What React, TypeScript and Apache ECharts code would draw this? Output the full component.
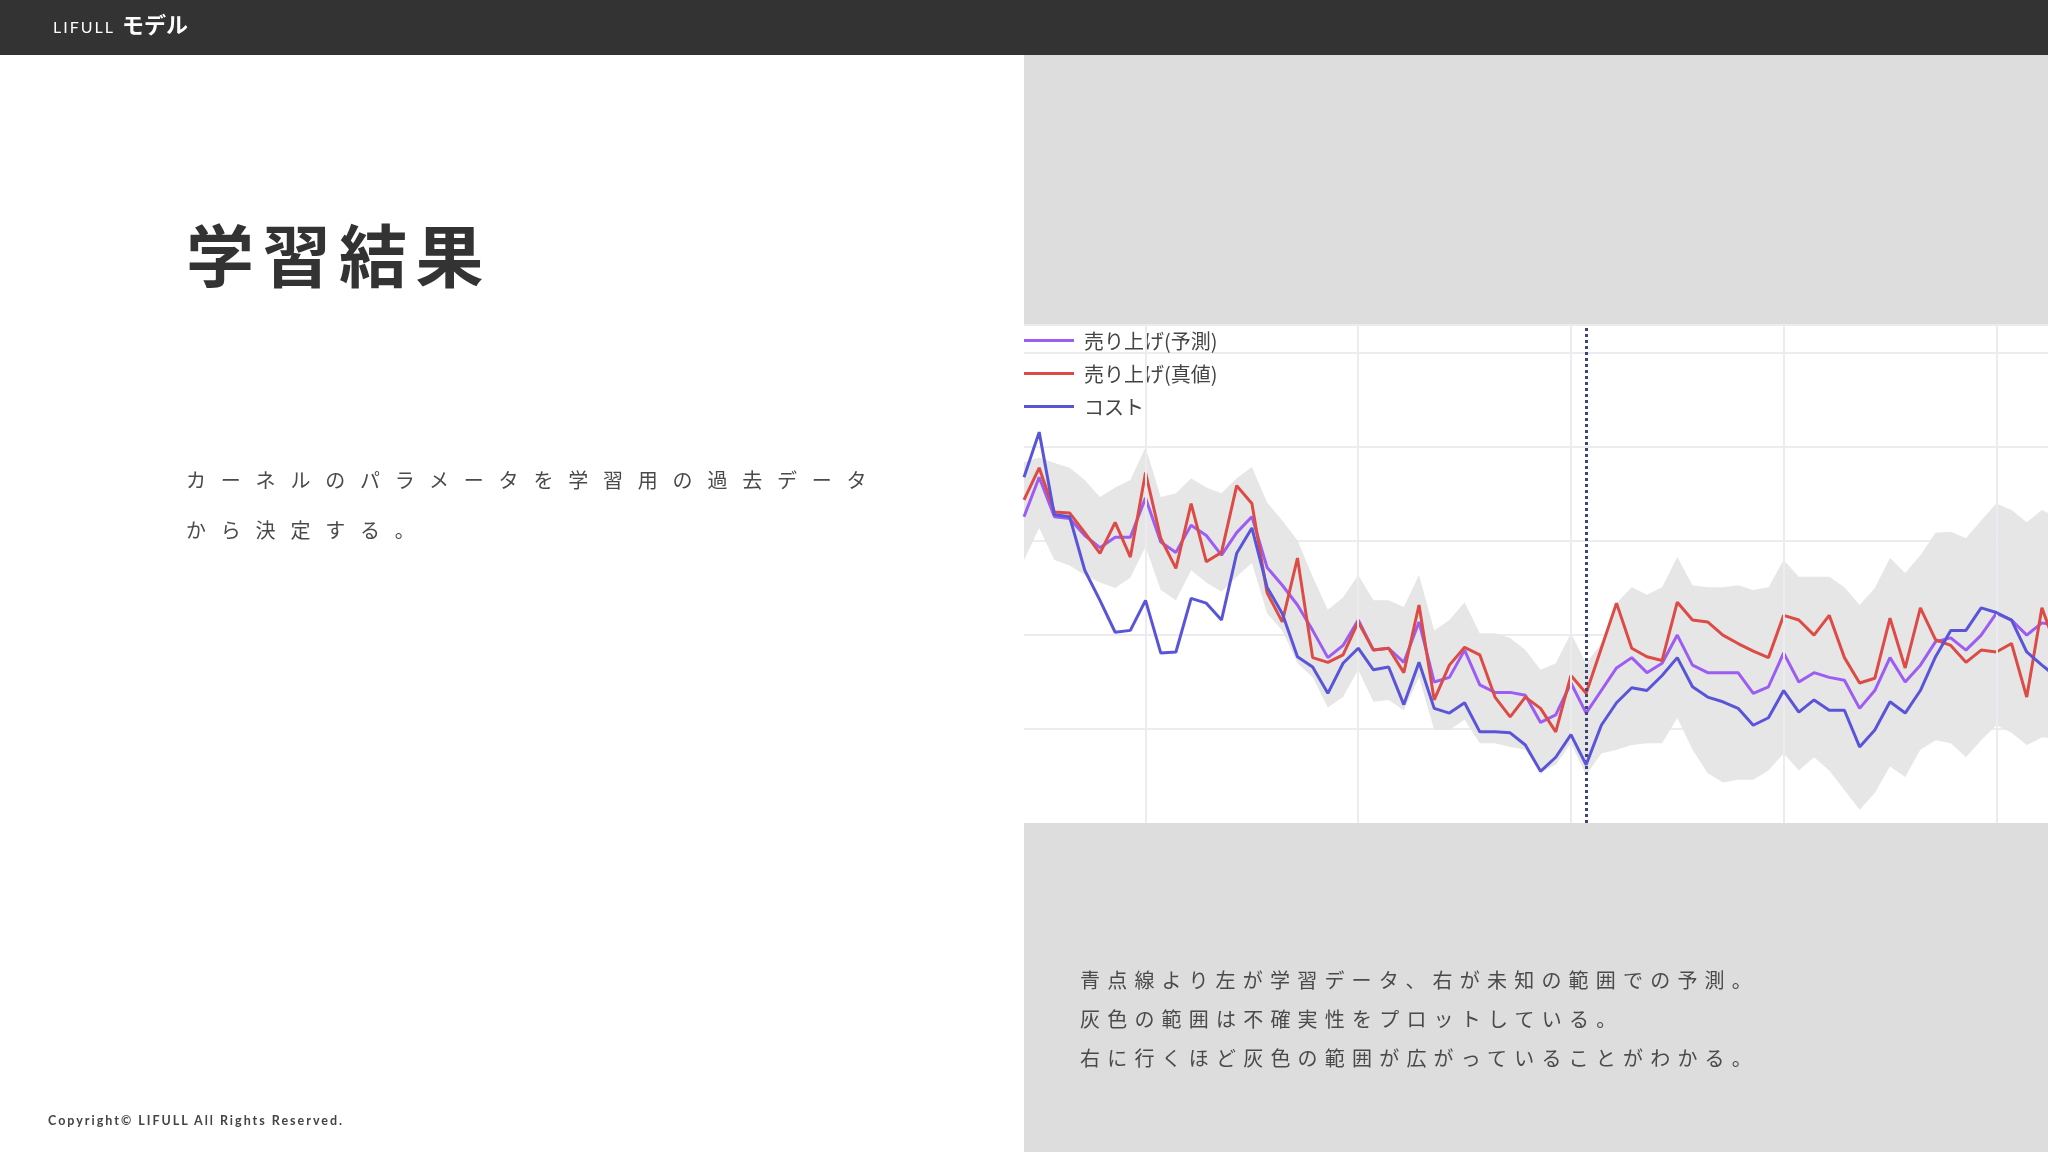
import React, { useEffect, useRef } from "react";
import * as echarts from "echarts";

// ---------- data ----------
const seriesNames = ["売り上げ(予測)", "売り上げ(真値)", "コスト"];

const predicted = [
  32.6, 36.8, 32.6, 32.4, 30.6, 29.3, 30.4, 30.4, 34.6, 29.9,
  28.8, 31.7, 30.6, 28.5, 30.9, 32.6, 27.2, 25.3, 23.2, 20.5,
  17.6, 18.9, 21.6, 18.4, 18.6, 17.1, 21.4, 15.0, 15.5, 18.4,
  14.7, 13.9, 13.9, 13.6, 10.7, 11.5, 14.9, 11.7, 14.1, 16.5,
  17.6, 16.0, 17.0, 20.0, 16.8, 16.0, 16.0, 16.0, 13.8, 14.5,
  18.1, 15.0, 16.0, 15.5, 15.2, 12.2, 14.1, 17.6, 15.0, 16.8,
  19.3, 19.7, 18.4, 20.0, 22.3, 21.6, 20.0, 21.3, 21.0,
];

const actual = [
  34.4, 37.8, 33.1, 33.0, 30.9, 28.7, 32.0, 28.3, 37.3, 30.3,
  27.1, 34.0, 27.8, 28.8, 35.9, 34.0, 24.5, 21.4, 28.2, 17.6,
  17.1, 17.9, 21.4, 18.4, 18.6, 16.0, 23.2, 13.1, 16.8, 18.7,
  17.9, 13.4, 11.3, 13.4, 12.2, 9.7, 15.7, 13.8, 18.6, 23.4,
  18.6, 17.7, 17.3, 23.5, 21.6, 21.4, 20.0, 19.1, 18.3, 17.6,
  22.1, 21.6, 20.0, 22.1, 17.6, 14.9, 15.4, 21.8, 16.5, 22.9,
  19.5, 18.9, 17.1, 18.4, 18.2, 19.1, 13.4, 22.9, 18.4,
];

const cost = [
  36.8, 41.6, 32.8, 32.6, 26.9, 23.7, 20.3, 20.5, 23.7, 18.1,
  18.2, 23.9, 23.4, 21.6, 28.7, 31.4, 25.1, 22.3, 17.7, 16.6,
  13.8, 17.0, 18.6, 16.3, 16.6, 12.6, 17.1, 12.2, 11.7, 12.8,
  9.7, 9.7, 9.6, 8.3, 5.5, 7.0, 9.4, 6.2, 10.4, 12.8,
  14.4, 14.1, 15.7, 17.6, 14.5, 13.4, 12.9, 12.2, 10.4, 11.2,
  14.1, 11.8, 13.1, 12.0, 12.0, 8.1, 9.9, 12.9, 11.7, 14.1,
  17.7, 20.5, 20.5, 22.9, 22.4, 21.6, 18.2, 16.8, 15.5,
];

const upperBand = [
  38.4, 38.9, 38.3, 37.8, 36.5, 34.7, 35.7, 36.5, 40.0, 34.7,
  35.1, 36.7, 35.7, 35.1, 36.7, 37.9, 34.1, 32.2, 30.1, 26.2,
  22.7, 24.0, 26.4, 23.7, 23.7, 23.0, 26.4, 20.5, 21.6, 23.5,
  20.2, 20.2, 19.7, 18.4, 16.3, 17.0, 20.2, 17.0, 19.1, 23.4,
  25.1, 24.3, 25.1, 28.3, 25.3, 25.1, 25.1, 25.3, 24.8, 25.1,
  28.0, 26.2, 26.2, 26.2, 25.1, 23.2, 25.0, 28.2, 26.6, 28.5,
  30.9, 31.0, 30.3, 32.2, 34.0, 33.3, 32.0, 33.3, 32.5,
];

const lowerBand = [
  28.0, 31.4, 28.0, 27.4, 26.4, 25.6, 25.0, 26.1, 29.4, 24.8,
  23.7, 26.9, 25.6, 24.6, 26.2, 27.7, 22.3, 20.5, 17.0, 15.5,
  12.3, 13.4, 16.3, 12.9, 13.1, 12.0, 15.5, 9.9, 9.9, 11.0,
  8.5, 8.5, 8.1, 7.8, 5.4, 6.2, 8.5, 5.1, 7.4, 7.8,
  8.3, 8.5, 8.5, 11.2, 7.8, 5.3, 4.3, 4.6, 4.6, 5.6,
  7.4, 5.6, 7.0, 5.6, 3.5, 1.4, 3.2, 6.0, 4.9, 7.8,
  8.8, 8.5, 7.0, 8.8, 10.4, 9.6, 8.3, 9.1, 9.0,
];

const xGridTicks = [8, 22, 36, 50, 64];
const splitIndex = 37;

// ---------- texts ----------
const headerBrand = "LIFULL";
const headerTitle = "モデル";
const pageTitle = "学習結果";
const leftLines = ["カーネルのパラメータを学習用の過去データ", "から決定する。"];
const noteLines = [
  "青点線より左が学習データ、右が未知の範囲での予測。",
  "灰色の範囲は不確実性をプロットしている。",
  "右に行くほど灰色の範囲が広がっていることがわかる。",
];
const copyright = "Copyright© LIFULL All Rights Reserved.";

const CJK = '"Noto Sans CJK JP", "Noto Sans", sans-serif';
const LATIN = 'Lato, "Open Sans", sans-serif';

const COLORS = ["#9d5cf2", "#dc4b46", "#5a55d8"];

// letter spacing applied to rendered svg texts
const spacingMap: Record<string, number> = {
  [pageTitle]: 8.5,
  [leftLines[0]]: 14.8,
  [leftLines[1]]: 14.8,
  [noteLines[0]]: 7.2,
  [noteLines[1]]: 7.2,
  [noteLines[2]]: 7.2,
  [headerBrand]: 2,
  [copyright]: 2.0,
};

function txt(text: string, x: number, y: number, size: number, fill: string, family: string, weight: any = "normal") {
  return {
    type: "text",
    x,
    y,
    silent: true,
    style: {
      text,
      fill,
      fontSize: size,
      fontFamily: family,
      fontWeight: weight,
      textAlign: "left",
      textVerticalAlign: "middle",
    },
  };
}

export default function App() {
  const ref = useRef<HTMLDivElement>(null);

  useEffect(() => {
    if (!ref.current) return;
    const chart = echarts.init(ref.current, undefined, { renderer: "svg" });

    const idx = predicted.map((_, i) => i);

    const graphic: any[] = [
      { type: "rect", z: -3, silent: true, shape: { x: 0, y: 0, width: 2048, height: 1152 }, style: { fill: "#ffffff" } },
      { type: "rect", z: -2, silent: true, shape: { x: 1024, y: 55, width: 1024, height: 1097 }, style: { fill: "#dddddd" } },
      { type: "rect", z: -1, silent: true, shape: { x: 1024, y: 325, width: 1024, height: 498 }, style: { fill: "#ffffff" } },
      { type: "rect", z: -1, silent: true, shape: { x: 0, y: 0, width: 2048, height: 55 }, style: { fill: "#333333" } },
      txt(headerBrand, 53, 26, 16, "#ffffff", LATIN, "normal"),
      txt(headerTitle, 122, 23, 22, "#ffffff", CJK, "bold"),
      txt(pageTitle, 186, 252, 68, "#333333", CJK, "bold"),
      txt(leftLines[0], 186, 479, 20, "#4a4a4a", CJK),
      txt(leftLines[1], 186, 529, 20, "#4a4a4a", CJK),
      txt(noteLines[0], 1080, 979, 20, "#4a4a4a", CJK),
      txt(noteLines[1], 1080, 1018, 20, "#4a4a4a", CJK),
      txt(noteLines[2], 1080, 1057, 20, "#4a4a4a", CJK),
      txt(copyright, 48, 1120, 12.5, "#444444", LATIN, "bold"),
    ];

    const lineSeries = (name: string, data: number[], color: string, z: number) => ({
      name,
      type: "line",
      data: data.map((v, i) => [idx[i], v]),
      symbol: "none",
      z,
      color,
      lineStyle: { color, width: 3 },
      itemStyle: { color },
      emphasis: { disabled: true },
    });

    const bandData = idx.map((i) => [i, lowerBand[i], upperBand[i]]);

    const option: any = {
      animation: false,
      graphic,
      grid: { left: 1024, top: 325, width: 1024, height: 498, containLabel: false },
      legend: {
        data: seriesNames,
        orient: "vertical",
        left: 1024,
        top: 330,
        padding: 0,
        itemWidth: 50,
        itemHeight: 3,
        itemGap: 12,
        icon: "rect",
        selectedMode: false,
        textStyle: {
          fontSize: 20,
          lineHeight: 21,
          color: "#444444",
          fontFamily: CJK,
          padding: [0, 0, 0, 5],
        },
      },
      xAxis: {
        type: "value",
        min: 0,
        max: 67.4,
        show: false,
        splitLine: { show: false },
      },
      yAxis: {
        type: "value",
        min: 0,
        max: 53,
        interval: 10,
        axisLine: { show: false },
        axisTick: { show: false },
        axisLabel: { show: false },
        splitLine: { show: true, showMinLine: false, lineStyle: { color: "#ebebf0", width: 2 } },
      },
      series: [
        {
          name: "band",
          type: "custom",
          data: bandData,
          encode: { x: 0, y: [1, 2] },
          silent: true,
          clip: true,
          z: 1,
          renderItem: (params: any, api: any) => {
            if (params.dataIndex !== 0) return null;
            const top: number[][] = [];
            const bottom: number[][] = [];
            for (let i = 0; i < bandData.length; i++) {
              top.push(api.coord([bandData[i][0], bandData[i][2]]));
              bottom.push(api.coord([bandData[i][0], bandData[i][1]]));
            }
            const points = top.concat(bottom.reverse());
            const cs = params.coordSys;
            return {
              type: "polygon",
              shape: { points },
              style: { fill: "#e4e4e4", opacity: 0.92 },
              clipPath: { type: "rect", shape: { x: cs.x, y: cs.y, width: cs.width, height: cs.height } },
            };
          },
          markLine: {
            silent: true,
            symbol: ["none", "none"],
            label: { show: false },
            lineStyle: { color: "#ebebf0", width: 2, type: "solid" },
            data: xGridTicks.map((x) => ({ xAxis: x })),
          },
        },
        lineSeries(seriesNames[0], predicted, COLORS[0], 3),
        lineSeries(seriesNames[1], actual, COLORS[1], 4),
        {
          ...lineSeries(seriesNames[2], cost, COLORS[2], 5),
          markLine: {
            silent: true,
            symbol: ["none", "none"],
            label: { show: false },
            lineStyle: { color: "#3f4577", width: 3, type: [3, 3] },
            data: [{ xAxis: splitIndex }],
          },
        },
      ],
    };

    chart.setOption(option);

    const applySpacing = () => {
      const root = ref.current;
      if (!root) return;
      root.querySelectorAll("text").forEach((t) => {
        const s = spacingMap[(t.textContent || "").trim()];
        if (s !== undefined) (t as SVGTextElement).style.letterSpacing = `${s}px`;
      });
    };
    applySpacing();
    chart.on("finished", applySpacing);
    chart.on("rendered", applySpacing);
    const raf = requestAnimationFrame(() => {
      applySpacing();
      requestAnimationFrame(applySpacing);
    });

    return () => {
      cancelAnimationFrame(raf);
      chart.dispose();
    };
  }, []);

  return (
    <div
      ref={ref}
      style={{ position: "fixed", left: 0, top: 0, width: 2048, height: 1152 }}
    />
  );
}
